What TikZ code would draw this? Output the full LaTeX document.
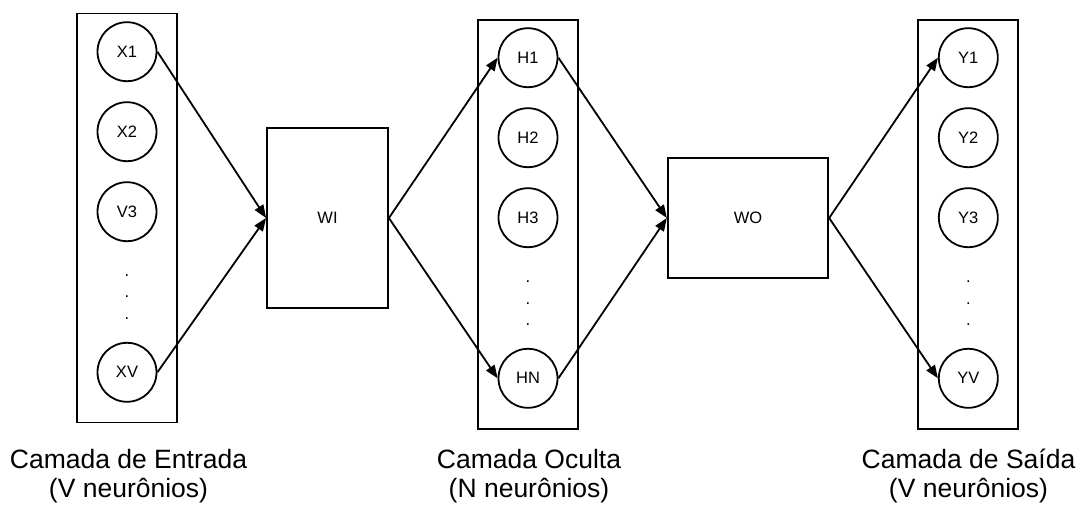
\documentclass[tikz,border=0pt]{standalone}
\usepackage{fontspec}
\setmainfont{Liberation Sans}
\usetikzlibrary{arrows.meta}
\begin{document}
\begin{tikzpicture}[x=1pt,y=-1pt,
  line width=1.8pt,
  neuron/.style={draw,circle,minimum size=59pt,inner sep=0pt,font=\fontsize{16.5}{19}\selectfont},
  layerbox/.style={draw,rectangle,inner sep=0pt},
  weightbox/.style={draw,rectangle,inner sep=0pt,font=\fontsize{16.5}{19}\selectfont},
  vdot/.style={inner sep=0pt,anchor=base,font=\fontsize{16.5}{19}\selectfont},
  caption/.style={align=center,anchor=base,font=\fontsize{26.5}{29}\selectfont},
  link/.style={-{Triangle[length=13pt,width=10pt]}}]
\useasboundingbox (0,0) rectangle (1084,505);

% layer frames
\node[layerbox,minimum width=100pt,minimum height=409pt] (inframe) at (127,218) {};
\node[layerbox,minimum width=100pt,minimum height=409pt] (hidframe) at (528,224.2) {};
\node[layerbox,minimum width=100pt,minimum height=409pt] (outframe) at (968.3,224.2) {};

% input layer
\node[neuron] (x1) at (127,51.7) {X1};
\node[neuron] (x2) at (127,131.7) {X2};
\node[neuron] (x3) at (127,211.7) {V3};
\node[neuron] (xv) at (127,372.3) {XV};
\node[vdot] (xd1) at (127,276) {.};
\node[vdot] (xd2) at (127,297.7) {.};
\node[vdot] (xd3) at (127,319.3) {.};

% hidden layer
\node[neuron] (h1) at (528,57.7) {H1};
\node[neuron] (h2) at (528,137.7) {H2};
\node[neuron] (h3) at (528,217.7) {H3};
\node[neuron] (hn) at (528,378.3) {HN};
\node[vdot] (hd1) at (528,282.7) {.};
\node[vdot] (hd2) at (528,304.3) {.};
\node[vdot] (hd3) at (528,325.3) {.};

% output layer
\node[neuron] (y1) at (968.3,57.7) {Y1};
\node[neuron] (y2) at (968.3,137.7) {Y2};
\node[neuron] (y3) at (968.3,217.7) {Y3};
\node[neuron] (yv) at (968.3,378.3) {YV};
\node[vdot] (yd1) at (968.3,282.7) {.};
\node[vdot] (yd2) at (968.3,304.3) {.};
\node[vdot] (yd3) at (968.3,325.3) {.};

% weight matrices
\node[weightbox,minimum width=121pt,minimum height=180.5pt] (wi) at (327.5,218) {WI};
\node[weightbox,minimum width=160.5pt,minimum height=120pt] (wo) at (748,218) {WO};

% connections
\draw[link] (x1.east) -- (wi.west);
\draw[link] (xv.east) -- (wi.west);
\draw[link] (wi.east) -- (h1.west);
\draw[link] (wi.east) -- (hn.west);
\draw[link] (h1.east) -- (wo.west);
\draw[link] (hn.east) -- (wo.west);
\draw[link] (wo.east) -- (y1.west);
\draw[link] (wo.east) -- (yv.west);

% captions
\node[caption] (capin) at (128.5,497) {Camada de Entrada\\(V neurônios)};
\node[caption] (caphid) at (529,497) {Camada Oculta\\(N neurônios)};
\node[caption] (capout) at (968.5,497) {Camada de Saída\\(V neurônios)};
\end{tikzpicture}
\end{document}
